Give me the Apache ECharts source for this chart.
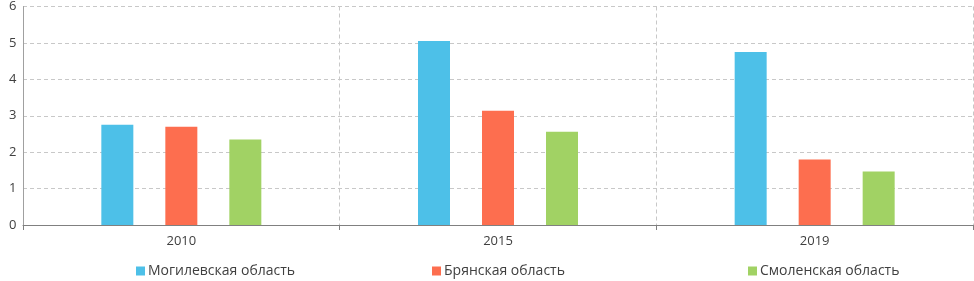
<!DOCTYPE html>
<html>
<head>
<meta charset="utf-8">
<script src="https://cdn.jsdelivr.net/npm/echarts@6/dist/echarts.min.js"></script>
<style>html,body{margin:0;padding:0;background:#fff}#c{width:974px;height:281px}</style>
</head>
<body>
<div id="c"></div>
<script>
const categories = ['2010', '2015', '2019'];
const seriesNames = ['Могилевская область', 'Брянская область', 'Смоленская область'];
const mogilev = [2.75, 5.05, 4.75];
const bryansk = [2.70, 3.14, 1.80];
const smolensk = [2.35, 2.56, 1.47];
const yTicks = [0, 1, 2, 3, 4, 5, 6];
const colors = ['#4dc0e8', '#fd6e4f', '#a1d264'];
const legendLeft = [136, 432, 748];

const values = [mogilev, bryansk, smolensk];
const font = 'Open Sans';
const chart = echarts.init(document.getElementById('c'));
chart.setOption({
  animation: false,
  textStyle: { fontFamily: font },
  grid: { left: 23, right: 1, top: 5, bottom: 56 },
  legend: seriesNames.map((n, i) => ({
    data: [n], left: legendLeft[i], top: 264, padding: 0, icon: 'rect', itemWidth: 9, itemHeight: 9, itemGap: 4,
    textStyle: { fontFamily: font, fontSize: 14, color: '#404040', padding: [0, 0, 0, -2] }
  })),
  xAxis: {
    type: 'category', data: categories,
    axisLine: { lineStyle: { color: '#808080', width: 1 } },
    axisTick: { show: true, length: 5, lineStyle: { color: '#808080' } },
    axisLabel: { fontSize: 13, color: '#404040', margin: 10, fontFamily: font },
    splitLine: { show: true, lineStyle: { color: '#c8c8c8', type: [4, 3] } }
  },
  yAxis: {
    type: 'value', min: yTicks[0], max: yTicks[yTicks.length - 1], interval: 1,
    axisLine: { show: true, lineStyle: { color: '#a0a0a0' } },
    axisTick: { show: false },
    axisLabel: { fontSize: 13, color: '#404040', margin: 14, fontFamily: font, align: 'left',
      formatter: v => yTicks.includes(v) ? String(v) : '' },
    splitLine: { show: true, lineStyle: { color: '#c8c8c8', type: [4, 3] } }
  },
  series: seriesNames.map((n, i) => ({
    name: n, type: 'bar', data: values[i], barWidth: 32, barGap: '100%',
    itemStyle: { color: colors[i] }
  }))
});
</script>
</body>
</html>
